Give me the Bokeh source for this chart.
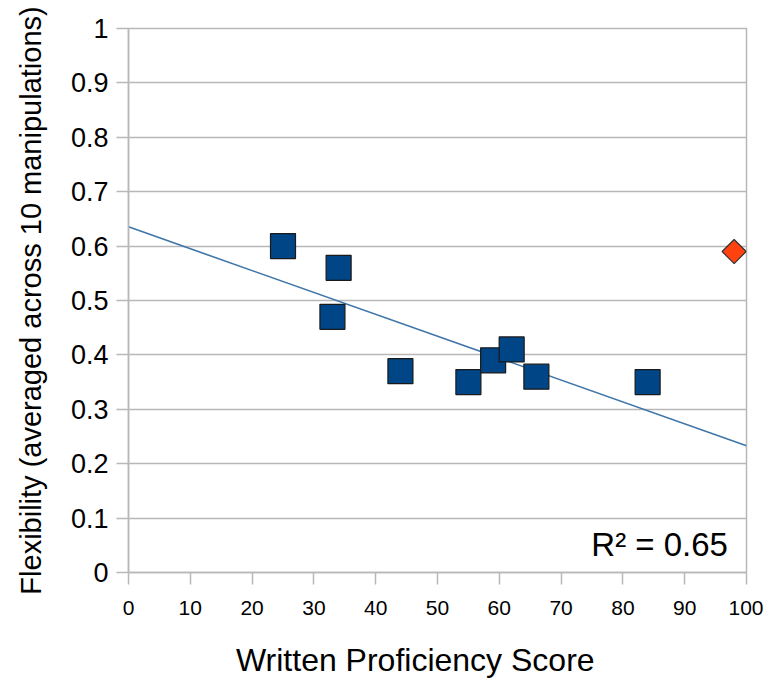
import numpy as np
from bokeh.plotting import figure
from bokeh.models import Range1d, FixedTicker, NumeralTickFormatter, Label
from bokeh.embed import file_html
from bokeh.resources import INLINE

# Data
score = [25, 34, 33, 44, 55, 59, 62, 66, 84]
flexibility = [0.60, 0.56, 0.47, 0.37, 0.35, 0.39, 0.41, 0.36, 0.35]
outlier_score = [98]
outlier_flex = [0.59]
x_ticks = [0, 10, 20, 30, 40, 50, 60, 70, 80, 90, 100]
y_ticks = [0, 0.1, 0.2, 0.3, 0.4, 0.5, 0.6, 0.7, 0.8, 0.9, 1]

# Linear fit on the main group
xs = np.array(score, dtype=float)
ys = np.array(flexibility, dtype=float)
slope, intercept = np.polyfit(xs, ys, 1)
pred = slope * xs + intercept
r2 = 1 - np.sum((ys - pred) ** 2) / np.sum((ys - ys.mean()) ** 2)
fit_x = [x_ticks[0], x_ticks[-1]]
fit_y = [slope * v + intercept for v in fit_x]

FONT = "Liberation Sans"
GRID = "#b8b8b8"

p = figure(width=763, height=680, output_backend="svg", toolbar_location=None,
           x_range=Range1d(0, 100), y_range=Range1d(0, 1),
           min_border_left=128, min_border_right=17, min_border_top=28, min_border_bottom=106)
p.background_fill_color = "white"
p.border_fill_color = "white"
p.outline_line_color = GRID
p.outline_line_width = 1.5

p.xgrid.grid_line_color = None
p.ygrid.grid_line_color = GRID
p.ygrid.grid_line_width = 1.5

for ax in (p.xaxis, p.yaxis):
    ax.axis_line_color = GRID
    ax.axis_line_width = 1.5
    ax.major_tick_line_color = GRID
    ax.major_tick_line_width = 1.5
    ax.major_tick_in = 0
    ax.major_tick_out = 12
    ax.minor_tick_line_color = None
    ax.major_label_text_font = FONT
    ax.major_label_text_color = "black"
    ax.axis_label_text_font = FONT
    ax.axis_label_text_font_style = "normal"
    ax.axis_label_text_color = "black"

p.xaxis.ticker = FixedTicker(ticks=x_ticks)
p.yaxis.ticker = FixedTicker(ticks=y_ticks)
p.yaxis.formatter = NumeralTickFormatter(format="0.[0]")
p.xaxis.major_label_text_font_size = "21px"
p.yaxis.major_label_text_font_size = "27px"
p.xaxis.major_label_standoff = 16
p.yaxis.major_label_standoff = 8
p.yaxis.axis_label = "Flexibility (averaged across 10 manipulations)"
p.yaxis.axis_label_text_font_size = "29px"
p.yaxis.axis_label_standoff = 21

# trailing no-break spaces shift the centred title left, as in the reference
p.xaxis.axis_label = "Written Proficiency Score" + "\u00a0" * 5
p.xaxis.axis_label_text_font_size = "32px"
p.xaxis.axis_label_standoff = 24

p.line(fit_x, fit_y, line_color="#3f75a8", line_width=1.6)

p.scatter(score, flexibility, marker="square", size=25,
          fill_color="#004586", line_color="#1a1a1a", line_width=1.2)
p.scatter(outlier_score, outlier_flex, marker="square", angle=np.pi / 4, size=17,
          fill_color="#ff420e", line_color="#333333", line_width=1.2)

p.add_layout(Label(x=97, y=0.052, text=f"R² = {r2:.2f}", text_align="right",
                   text_baseline="alphabetic", text_font=FONT,
                   text_font_size="33px", text_color="black"))

open("out.html", "w").write(file_html(p, INLINE))
